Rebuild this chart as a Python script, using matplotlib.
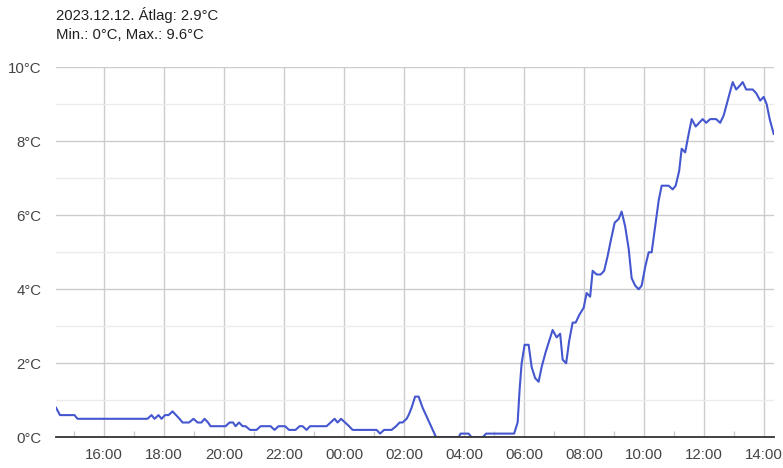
import matplotlib
matplotlib.use("Agg")
import matplotlib.pyplot as plt
import matplotlib.dates as mdates
import pandas as pd

plt.rcParams['font.family'] = ['Liberation Sans', 'DejaVu Sans']

title_lines = ["2023.12.12. Átlag: 2.9°C", "Min.: 0°C, Max.: 9.6°C"]

times = [
    "14:24", "14:32", "15:01", "15:07", "17:27", "17:35", "17:41", "17:49", "17:55",
    "18:02", "18:09", "18:17", "18:24", "18:31", "18:37", "18:50", "18:59", "19:07",
    "19:15", "19:21", "19:28", "19:33", "20:03", "20:11", "20:18", "20:23", "20:30",
    "20:37", "20:43", "20:52", "21:05", "21:13", "21:33", "21:41", "21:49", "22:02",
    "22:10", "22:23", "22:31", "22:37", "22:45", "22:52", "23:25", "23:33", "23:41",
    "23:47", "23:54", "00:02", "00:10", "00:17", "01:05", "01:12", "01:20", "01:35",
    "01:44", "01:51", "01:57", "02:05", "02:09", "02:15", "02:22", "02:29", "02:37",
    "03:04", "03:49", "03:53", "04:09", "04:15", "04:37", "04:44", "05:40", "05:47",
    "05:51", "05:55", "06:01", "06:09", "06:15", "06:22", "06:29", "06:35", "06:43",
    "06:50", "06:57", "07:05", "07:12", "07:17", "07:24", "07:30", "07:37", "07:43",
    "07:50", "07:59", "08:05", "08:12", "08:17", "08:25", "08:33", "08:40", "08:47",
    "08:53", "09:01", "09:09", "09:15", "09:22", "09:29", "09:35", "09:42", "09:49",
    "09:55", "10:02", "10:09", "10:15", "10:29", "10:35", "10:49", "10:57", "11:03",
    "11:10", "11:15", "11:22", "11:29", "11:35", "11:43", "11:50", "11:57", "12:04",
    "12:12", "12:24", "12:32", "12:39", "12:45", "12:51", "12:57", "13:04", "13:11",
    "13:17", "13:24", "13:37", "13:44", "13:52", "13:59", "14:05", "14:11", "14:19",
]
temps = [
    0.8, 0.6, 0.6, 0.5, 0.5, 0.6, 0.5, 0.6, 0.5,
    0.6, 0.6, 0.7, 0.6, 0.5, 0.4, 0.4, 0.5, 0.4,
    0.4, 0.5, 0.4, 0.3, 0.3, 0.4, 0.4, 0.3, 0.4,
    0.3, 0.3, 0.2, 0.2, 0.3, 0.3, 0.2, 0.3, 0.3,
    0.2, 0.2, 0.3, 0.3, 0.2, 0.3, 0.3, 0.4, 0.5,
    0.4, 0.5, 0.4, 0.3, 0.2, 0.2, 0.1, 0.2, 0.2,
    0.3, 0.4, 0.4, 0.5, 0.6, 0.8, 1.1, 1.1, 0.8,
    0.0, 0.0, 0.1, 0.1, 0.0, 0.0, 0.1, 0.1, 0.4,
    1.3, 2.0, 2.5, 2.5, 1.9, 1.6, 1.5, 1.9, 2.3,
    2.6, 2.9, 2.7, 2.8, 2.1, 2.0, 2.6, 3.1, 3.1,
    3.3, 3.5, 3.9, 3.8, 4.5, 4.4, 4.4, 4.5, 4.9,
    5.3, 5.8, 5.9, 6.1, 5.7, 5.1, 4.3, 4.1, 4.0,
    4.1, 4.6, 5.0, 5.0, 6.4, 6.8, 6.8, 6.7, 6.8,
    7.2, 7.8, 7.7, 8.2, 8.6, 8.4, 8.5, 8.6, 8.5,
    8.6, 8.6, 8.5, 8.7, 9.0, 9.3, 9.6, 9.4, 9.5,
    9.6, 9.4, 9.4, 9.3, 9.1, 9.2, 9.0, 8.6, 8.2,
]
y_ticks = [0, 2, 4, 6, 8, 10]

# build datetimes with day rollover
stamps = []
day = pd.Timestamp("2023-12-11")
prev = None
for t in times:
    ts = pd.Timestamp(f"{day.date()} {t}")
    if prev is not None and ts < prev:
        day = day + pd.Timedelta(days=1)
        ts = pd.Timestamp(f"{day.date()} {t}")
    stamps.append(ts)
    prev = ts

fig = plt.figure(figsize=(7.83, 4.68), dpi=100)
ax = fig.add_axes([56 / 783, (468 - 437.3) / 468, (773.7 - 56) / 783, (437.3 - 67.3) / 468])

ax.plot(stamps, temps, color="#4457cf", lw=1.5, solid_joinstyle="round", zorder=3)

ax.set_xlim(stamps[0], stamps[-1])
ax.set_ylim(0, 10)

ax.xaxis.set_major_locator(mdates.HourLocator(byhour=range(0, 24, 2)))
ax.xaxis.set_major_formatter(mdates.DateFormatter("%H:%M"))
ax.xaxis.set_minor_locator(mdates.HourLocator(byhour=range(1, 24, 2)))
ax.set_yticks(y_ticks)
ax.set_yticklabels([f"{v}°C" for v in y_ticks])
ax.set_yticks([1, 3, 5, 7, 9], minor=True)

ax.grid(True, which="major", axis="both", color="#cccccc", lw=1)
ax.grid(True, which="minor", axis="y", color="#ebebeb", lw=1)
ax.set_axisbelow(True)

for s in ["top", "right", "left"]:
    ax.spines[s].set_visible(False)
ax.spines["bottom"].set_color("#333333")
ax.spines["bottom"].set_linewidth(1.3)
ax.spines["bottom"].set_zorder(4)

ax.tick_params(axis="x", which="major", length=0, pad=8, labelsize=10.8, labelcolor="#444444")
ax.tick_params(axis="x", which="minor", direction="in", length=4.5, width=1, color="#cccccc")
ax.tick_params(axis="y", which="both", length=0, pad=10.5, labelsize=10.8, labelcolor="#444444")

fig.text(56 / 783, 1 - 15 / 468, title_lines[0], fontsize=10.7, color="#222222", va="center", ha="left")
fig.text(56 / 783, 1 - 35 / 468, title_lines[1], fontsize=10.7, color="#222222", va="center", ha="left")

fig.savefig("out.png", dpi=100)
